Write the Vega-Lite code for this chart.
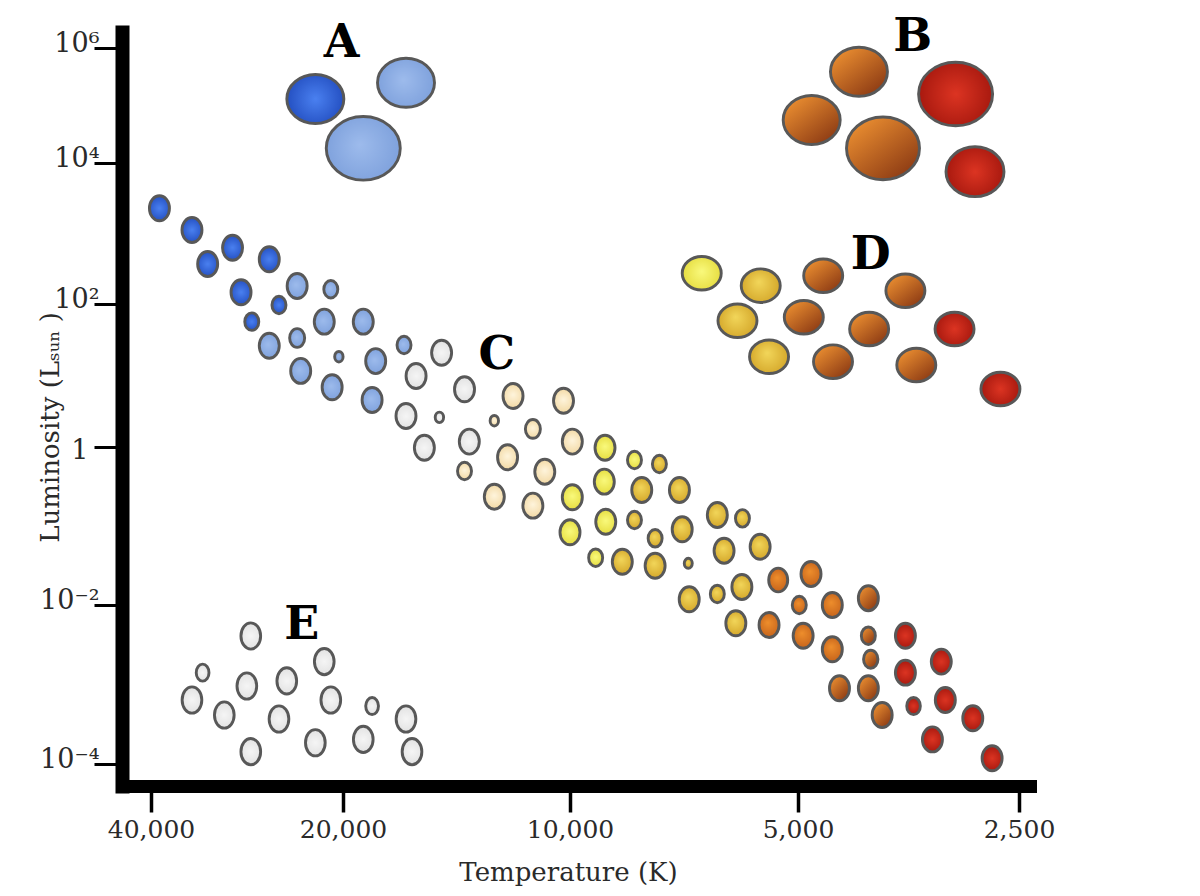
{
  "$schema": "https://vega.github.io/schema/vega-lite/v6.json",
  "width": 908,
  "height": 754,
  "autosize": {"type": "none"},
  "padding": {"left": 122, "top": 32, "right": 170, "bottom": 110},
  "background": "white",
  "config": {"view": {"stroke": null}},
  "datasets": {
    "stars": [
      {"temp": 38800, "lum": 2280, "radius": 1, "type": "O", "group": "main sequence"},
      {"temp": 34500, "lum": 1120, "radius": 1, "type": "O", "group": "main sequence"},
      {"temp": 29800, "lum": 629, "radius": 1, "type": "O", "group": "main sequence"},
      {"temp": 32600, "lum": 369, "radius": 1, "type": "O", "group": "main sequence"},
      {"temp": 26100, "lum": 431, "radius": 1, "type": "O", "group": "main sequence"},
      {"temp": 28900, "lum": 147, "radius": 1, "type": "O", "group": "main sequence"},
      {"temp": 23600, "lum": 180, "radius": 1, "type": "B", "group": "main sequence"},
      {"temp": 20900, "lum": 162, "radius": 0.7, "type": "B", "group": "main sequence"},
      {"temp": 25200, "lum": 96.8, "radius": 0.7, "type": "O", "group": "main sequence"},
      {"temp": 27800, "lum": 56.6, "radius": 0.7, "type": "O", "group": "main sequence"},
      {"temp": 21400, "lum": 56.6, "radius": 1, "type": "B", "group": "main sequence"},
      {"temp": 18800, "lum": 56.6, "radius": 1, "type": "B", "group": "main sequence"},
      {"temp": 26100, "lum": 26.1, "radius": 1, "type": "B", "group": "main sequence"},
      {"temp": 23600, "lum": 33.5, "radius": 0.75, "type": "B", "group": "main sequence"},
      {"temp": 16600, "lum": 26.7, "radius": 0.7, "type": "B", "group": "main sequence"},
      {"temp": 20300, "lum": 18.3, "radius": 0.42, "type": "B", "group": "main sequence"},
      {"temp": 18100, "lum": 15.9, "radius": 1, "type": "B", "group": "main sequence"},
      {"temp": 14800, "lum": 20.8, "radius": 1, "type": "A", "group": "main sequence"},
      {"temp": 23300, "lum": 11.6, "radius": 1, "type": "B", "group": "main sequence"},
      {"temp": 16000, "lum": 9.84, "radius": 1, "type": "A", "group": "main sequence"},
      {"temp": 20800, "lum": 6.84, "radius": 1, "type": "B", "group": "main sequence"},
      {"temp": 18300, "lum": 4.54, "radius": 1, "type": "B", "group": "main sequence"},
      {"temp": 16500, "lum": 2.71, "radius": 1, "type": "A", "group": "main sequence"},
      {"temp": 14900, "lum": 2.6, "radius": 0.42, "type": "A", "group": "main sequence"},
      {"temp": 13800, "lum": 6.41, "radius": 1, "type": "A", "group": "main sequence"},
      {"temp": 12600, "lum": 2.33, "radius": 0.42, "type": "F", "group": "main sequence"},
      {"temp": 11900, "lum": 5.17, "radius": 1, "type": "F", "group": "main sequence"},
      {"temp": 10200, "lum": 4.44, "radius": 1, "type": "F", "group": "main sequence"},
      {"temp": 15600, "lum": 0.98, "radius": 1, "type": "A", "group": "main sequence"},
      {"temp": 13600, "lum": 1.19, "radius": 1, "type": "A", "group": "main sequence"},
      {"temp": 11200, "lum": 1.79, "radius": 0.75, "type": "F", "group": "main sequence"},
      {"temp": 9930, "lum": 1.19, "radius": 1, "type": "F", "group": "main sequence"},
      {"temp": 13800, "lum": 0.497, "radius": 0.7, "type": "F", "group": "main sequence"},
      {"temp": 12100, "lum": 0.741, "radius": 1, "type": "F", "group": "main sequence"},
      {"temp": 8990, "lum": 0.98, "radius": 1, "type": "G0", "group": "main sequence"},
      {"temp": 10800, "lum": 0.487, "radius": 1, "type": "F", "group": "main sequence"},
      {"temp": 8220, "lum": 0.684, "radius": 0.7, "type": "G0", "group": "main sequence"},
      {"temp": 7620, "lum": 0.609, "radius": 0.7, "type": "G5", "group": "main sequence"},
      {"temp": 12600, "lum": 0.235, "radius": 1, "type": "F", "group": "main sequence"},
      {"temp": 11200, "lum": 0.181, "radius": 1, "type": "F", "group": "main sequence"},
      {"temp": 9930, "lum": 0.231, "radius": 1, "type": "G0", "group": "main sequence"},
      {"temp": 9010, "lum": 0.364, "radius": 1, "type": "G0", "group": "main sequence"},
      {"temp": 8040, "lum": 0.286, "radius": 1, "type": "G5", "group": "main sequence"},
      {"temp": 7170, "lum": 0.286, "radius": 1, "type": "G5", "group": "main sequence"},
      {"temp": 10000, "lum": 0.0832, "radius": 1, "type": "G0", "group": "main sequence"},
      {"temp": 8970, "lum": 0.113, "radius": 1, "type": "G0", "group": "main sequence"},
      {"temp": 8220, "lum": 0.119, "radius": 0.7, "type": "G5", "group": "main sequence"},
      {"temp": 7720, "lum": 0.0699, "radius": 0.7, "type": "G5", "group": "main sequence"},
      {"temp": 7110, "lum": 0.0908, "radius": 1, "type": "G5", "group": "main sequence"},
      {"temp": 6390, "lum": 0.138, "radius": 1, "type": "G5", "group": "main sequence"},
      {"temp": 5920, "lum": 0.125, "radius": 0.7, "type": "G5", "group": "main sequence"},
      {"temp": 9250, "lum": 0.0397, "radius": 0.7, "type": "G0", "group": "main sequence"},
      {"temp": 8530, "lum": 0.0353, "radius": 1, "type": "G5", "group": "main sequence"},
      {"temp": 7720, "lum": 0.0314, "radius": 1, "type": "G5", "group": "main sequence"},
      {"temp": 6980, "lum": 0.0337, "radius": 0.4, "type": "G5", "group": "main sequence"},
      {"temp": 6260, "lum": 0.0487, "radius": 1, "type": "G5", "group": "main sequence"},
      {"temp": 5610, "lum": 0.0547, "radius": 1, "type": "G5", "group": "main sequence"},
      {"temp": 6960, "lum": 0.0118, "radius": 1, "type": "G5", "group": "main sequence"},
      {"temp": 6390, "lum": 0.0138, "radius": 0.7, "type": "G5", "group": "main sequence"},
      {"temp": 5930, "lum": 0.0169, "radius": 1, "type": "G5", "group": "main sequence"},
      {"temp": 5310, "lum": 0.0207, "radius": 0.95, "type": "K0", "group": "main sequence"},
      {"temp": 4800, "lum": 0.0247, "radius": 1, "type": "K0", "group": "main sequence"},
      {"temp": 4980, "lum": 0.01, "radius": 0.7, "type": "K0", "group": "main sequence"},
      {"temp": 6040, "lum": 0.00589, "radius": 1, "type": "G5", "group": "main sequence"},
      {"temp": 4490, "lum": 0.01, "radius": 1, "type": "K0", "group": "main sequence"},
      {"temp": 4010, "lum": 0.0122, "radius": 1, "type": "K5", "group": "main sequence"},
      {"temp": 5460, "lum": 0.0056, "radius": 1, "type": "K0", "group": "main sequence"},
      {"temp": 4920, "lum": 0.00411, "radius": 1, "type": "K0", "group": "main sequence"},
      {"temp": 4490, "lum": 0.00277, "radius": 1, "type": "K0", "group": "main sequence"},
      {"temp": 4010, "lum": 0.00411, "radius": 0.7, "type": "K5", "group": "main sequence"},
      {"temp": 3980, "lum": 0.00208, "radius": 0.72, "type": "K5", "group": "main sequence"},
      {"temp": 3570, "lum": 0.00411, "radius": 1, "type": "M", "group": "main sequence"},
      {"temp": 3190, "lum": 0.00194, "radius": 1, "type": "M", "group": "main sequence"},
      {"temp": 3570, "lum": 0.00141, "radius": 1, "type": "M", "group": "main sequence"},
      {"temp": 4390, "lum": 0.000896, "radius": 1, "type": "K5", "group": "main sequence"},
      {"temp": 4010, "lum": 0.000896, "radius": 1, "type": "K5", "group": "main sequence"},
      {"temp": 3480, "lum": 0.000536, "radius": 0.68, "type": "M", "group": "main sequence"},
      {"temp": 3150, "lum": 0.000638, "radius": 1, "type": "M", "group": "main sequence"},
      {"temp": 3840, "lum": 0.000413, "radius": 1, "type": "K5", "group": "main sequence"},
      {"temp": 2890, "lum": 0.000376, "radius": 1, "type": "M", "group": "main sequence"},
      {"temp": 3280, "lum": 0.000204, "radius": 1, "type": "M", "group": "main sequence"},
      {"temp": 2720, "lum": 0.000118, "radius": 1, "type": "M", "group": "main sequence"},
      {"temp": 27900, "lum": 0.00408, "radius": 1.05, "type": "A", "group": "white dwarf"},
      {"temp": 33200, "lum": 0.00141, "radius": 0.68, "type": "A", "group": "white dwarf"},
      {"temp": 21400, "lum": 0.00194, "radius": 1.05, "type": "A", "group": "white dwarf"},
      {"temp": 28300, "lum": 0.000957, "radius": 1.05, "type": "A", "group": "white dwarf"},
      {"temp": 24500, "lum": 0.00111, "radius": 1.05, "type": "A", "group": "white dwarf"},
      {"temp": 34500, "lum": 0.000638, "radius": 1.05, "type": "A", "group": "white dwarf"},
      {"temp": 30700, "lum": 0.000413, "radius": 1.05, "type": "A", "group": "white dwarf"},
      {"temp": 25200, "lum": 0.000368, "radius": 1.05, "type": "A", "group": "white dwarf"},
      {"temp": 20900, "lum": 0.000638, "radius": 1.05, "type": "A", "group": "white dwarf"},
      {"temp": 18300, "lum": 0.000536, "radius": 0.68, "type": "A", "group": "white dwarf"},
      {"temp": 16500, "lum": 0.000368, "radius": 1.05, "type": "A", "group": "white dwarf"},
      {"temp": 27900, "lum": 0.000143, "radius": 1.05, "type": "A", "group": "white dwarf"},
      {"temp": 22100, "lum": 0.000185, "radius": 1.05, "type": "A", "group": "white dwarf"},
      {"temp": 18800, "lum": 0.000204, "radius": 1.05, "type": "A", "group": "white dwarf"},
      {"temp": 16200, "lum": 0.000143, "radius": 1.05, "type": "A", "group": "white dwarf"},
      {"temp": 22100, "lum": 129700, "radius": 2.28, "type": "O", "group": "supergiant"},
      {"temp": 16500, "lum": 249200, "radius": 2.28, "type": "B", "group": "supergiant"},
      {"temp": 18800, "lum": 18020, "radius": 2.96, "type": "B", "group": "supergiant"},
      {"temp": 4130, "lum": 387000, "radius": 2.28, "type": "K5", "group": "supergiant"},
      {"temp": 3050, "lum": 158500, "radius": 2.96, "type": "M", "group": "supergiant"},
      {"temp": 4790, "lum": 55900, "radius": 2.28, "type": "K5", "group": "supergiant"},
      {"temp": 3830, "lum": 18000, "radius": 2.92, "type": "K5", "group": "supergiant"},
      {"temp": 2870, "lum": 7530, "radius": 2.32, "type": "M", "group": "supergiant"},
      {"temp": 6700, "lum": 273, "radius": 1.56, "type": "G0", "group": "giant"},
      {"temp": 5600, "lum": 182, "radius": 1.56, "type": "G5", "group": "giant"},
      {"temp": 4620, "lum": 252, "radius": 1.56, "type": "K5", "group": "giant"},
      {"temp": 3570, "lum": 154, "radius": 1.56, "type": "K5", "group": "giant"},
      {"temp": 6010, "lum": 58.4, "radius": 1.56, "type": "G5", "group": "giant"},
      {"temp": 4910, "lum": 65.2, "radius": 1.56, "type": "K5", "group": "giant"},
      {"temp": 4000, "lum": 44.7, "radius": 1.56, "type": "K5", "group": "giant"},
      {"temp": 3060, "lum": 44.7, "radius": 1.56, "type": "M", "group": "giant"},
      {"temp": 5460, "lum": 18.3, "radius": 1.56, "type": "G5", "group": "giant"},
      {"temp": 4480, "lum": 15.6, "radius": 1.56, "type": "K5", "group": "giant"},
      {"temp": 3450, "lum": 14.0, "radius": 1.56, "type": "K5", "group": "giant"},
      {"temp": 2650, "lum": 6.47, "radius": 1.56, "type": "M", "group": "giant"}
    ],
    "labels": [
      {"letter": "A", "temp": 20100, "lum": 1377000},
      {"letter": "B", "temp": 3490, "lum": 1752000},
      {"letter": "C", "temp": 12500, "lum": 21.3},
      {"letter": "D", "temp": 3980, "lum": 547},
      {"letter": "E", "temp": 23200, "lum": 0.00611}
    ]
  },
  "encoding": {
    "x": {
      "field": "temp",
      "type": "quantitative",
      "scale": {
        "type": "log",
        "domain": [44415, 40000, 20000, 10000, 5000, 2500, 2415],
        "range": [0, 29, 221, 448, 676, 897, 908],
        "nice": false,
        "zero": false
      },
      "axis": {
        "values": [40000, 20000, 10000, 5000, 2500],
        "format": ",d",
        "grid": false,
        "domainColor": "black",
        "domainWidth": 13,
        "domainCap": "square",
        "tickColor": "black",
        "tickWidth": 3.5,
        "tickSize": 26,
        "labelFont": "DejaVu Serif",
        "labelFontSize": 25,
        "labelColor": "#2a2a2a",
        "labelPadding": 25,
        "labelBaseline": "alphabetic",
        "labelFlush": false,
        "labelOverlap": false,
        "title": "Temperature (K)",
        "titleFont": "DejaVu Serif",
        "titleFontSize": 26,
        "titleFontWeight": "normal",
        "titleColor": "#2a2a2a",
        "titleX": 446,
        "titleY": 94,
        "titleAlign": "center",
        "titleBaseline": "alphabetic"
      }
    },
    "y": {
      "field": "lum",
      "type": "quantitative",
      "scale": {
        "type": "log",
        "domain": [0.00005288, 0.0001, 0.01, 1, 100, 10000, 1000000, 1898000],
        "range": [754, 732, 573, 415, 272, 131, 16, 0],
        "nice": false,
        "zero": false
      },
      "axis": {
        "values": [0.0001, 0.01, 1, 100, 10000, 1000000],
        "labelExpr": "datum.value == 1 ? '1' : datum.value > 500000 ? '10⁶' : datum.value > 5000 ? '10⁴' : datum.value > 50 ? '10²' : datum.value > 0.005 ? '10⁻²' : '10⁻⁴'",
        "grid": false,
        "domainColor": "black",
        "domainWidth": 14,
        "domainCap": "square",
        "tickColor": "black",
        "tickWidth": 3,
        "tickSize": 28,
        "labelFont": "DejaVu Serif",
        "labelFontSize": 27,
        "labelColor": "#2a2a2a",
        "labelAlign": "right",
        "labelPadding": {"condition": {"test": "datum.value == 1", "value": 6}, "value": -5},
        "labelBaseline": {"condition": {"test": "datum.value == 1", "value": "middle"}, "value": "alphabetic"},
        "labelOffset": 3,
        "labelOverlap": false,
        "title": "Luminosity (Lₛᵤₙ )",
        "titleFont": "DejaVu Serif",
        "titleFontSize": 26,
        "titleFontWeight": "normal",
        "titleColor": "#2a2a2a",
        "titleAngle": -90,
        "titleX": -64,
        "titleY": 395,
        "titleAlign": "center",
        "titleBaseline": "alphabetic"
      }
    }
  },
  "layer": [
    {
      "data": {"name": "stars"},
      "encoding": {
        "size": {
          "field": "radius",
          "type": "quantitative",
          "scale": {"type": "pow", "exponent": 2, "domain": [0, 3], "range": [0, 5625]},
          "legend": null
        },
        "shape": {
          "field": "group",
          "type": "nominal",
          "scale": {
            "domain": ["main sequence", "white dwarf", "giant", "supergiant"],
            "range": [
              "M0,-1C0.442,-1,0.8,-0.552,0.8,0C0.8,0.552,0.442,1,0,1C-0.442,1,-0.8,0.552,-0.8,0C-0.8,-0.552,-0.442,-1,0,-1Z",
              "M0,-1C0.415,-1,0.75,-0.552,0.75,0C0.75,0.552,0.415,1,0,1C-0.415,1,-0.75,0.552,-0.75,0C-0.75,-0.552,-0.415,-1,0,-1Z",
              "M0,-0.86C0.552,-0.86,1,-0.475,1,0C1,0.475,0.552,0.86,0,0.86C-0.552,0.86,-1,0.475,-1,0C-1,-0.475,-0.552,-0.86,0,-0.86Z",
              "M0,-0.86C0.552,-0.86,1,-0.475,1,0C1,0.475,0.552,0.86,0,0.86C-0.552,0.86,-1,0.475,-1,0C-1,-0.475,-0.552,-0.86,0,-0.86Z"
            ]
          },
          "legend": null
        }
      },
      "layer": [
        {
          "transform": [{"filter": "datum.type === 'O'"}],
          "mark": {"type": "point", "filled": true, "opacity": 1, "stroke": "#585858", "strokeWidth": 2.9,
            "fill": {"gradient": "radial", "x1": 0.5, "y1": 0.5, "r1": 0, "x2": 0.5, "y2": 0.5, "r2": 0.5,
              "stops": [{"offset": 0, "color": "#4a80f0"}, {"offset": 1, "color": "#2450c2"}]}}
        },
        {
          "transform": [{"filter": "datum.type === 'B'"}],
          "mark": {"type": "point", "filled": true, "opacity": 1, "stroke": "#585858", "strokeWidth": 2.9,
            "fill": {"gradient": "radial", "x1": 0.45, "y1": 0.45, "r1": 0, "x2": 0.5, "y2": 0.5, "r2": 0.55,
              "stops": [{"offset": 0, "color": "#9dbbec"}, {"offset": 1, "color": "#7c9fdb"}]}}
        },
        {
          "transform": [{"filter": "datum.type === 'A'"}],
          "mark": {"type": "point", "filled": true, "opacity": 1, "stroke": "#585858", "strokeWidth": 2.9,
            "fill": {"gradient": "radial", "x1": 0.5, "y1": 0.5, "r1": 0, "x2": 0.5, "y2": 0.5, "r2": 0.55,
              "stops": [{"offset": 0, "color": "#f5f5f5"}, {"offset": 1, "color": "#e0e0e0"}]}}
        },
        {
          "transform": [{"filter": "datum.type === 'F'"}],
          "mark": {"type": "point", "filled": true, "opacity": 1, "stroke": "#585858", "strokeWidth": 2.9,
            "fill": {"gradient": "radial", "x1": 0.5, "y1": 0.45, "r1": 0, "x2": 0.5, "y2": 0.5, "r2": 0.55,
              "stops": [{"offset": 0, "color": "#fef4dc"}, {"offset": 1, "color": "#f1d69e"}]}}
        },
        {
          "transform": [{"filter": "datum.type === 'G0'"}],
          "mark": {"type": "point", "filled": true, "opacity": 1, "stroke": "#585858", "strokeWidth": 2.9,
            "fill": {"gradient": "radial", "x1": 0.5, "y1": 0.45, "r1": 0, "x2": 0.5, "y2": 0.5, "r2": 0.55,
              "stops": [{"offset": 0, "color": "#f9f97c"}, {"offset": 1, "color": "#e4da3a"}]}}
        },
        {
          "transform": [{"filter": "datum.type === 'G5'"}],
          "mark": {"type": "point", "filled": true, "opacity": 1, "stroke": "#585858", "strokeWidth": 2.9,
            "fill": {"gradient": "radial", "x1": 0.45, "y1": 0.4, "r1": 0, "x2": 0.5, "y2": 0.5, "r2": 0.6,
              "stops": [{"offset": 0, "color": "#f2d65a"}, {"offset": 1, "color": "#cf9f22"}]}}
        },
        {
          "transform": [{"filter": "datum.type === 'K0'"}],
          "mark": {"type": "point", "filled": true, "opacity": 1, "stroke": "#585858", "strokeWidth": 2.9,
            "fill": {"gradient": "radial", "x1": 0.45, "y1": 0.4, "r1": 0, "x2": 0.5, "y2": 0.5, "r2": 0.6,
              "stops": [{"offset": 0, "color": "#ee8e2c"}, {"offset": 1, "color": "#bf5c18"}]}}
        },
        {
          "transform": [{"filter": "datum.type === 'K5'"}],
          "mark": {"type": "point", "filled": true, "opacity": 1, "stroke": "#585858", "strokeWidth": 2.9,
            "fill": {"gradient": "linear", "x1": 0.15, "y1": 0.1, "x2": 0.85, "y2": 0.9,
              "stops": [{"offset": 0, "color": "#e88c30"}, {"offset": 1, "color": "#8e3c14"}]}}
        },
        {
          "transform": [{"filter": "datum.type === 'M'"}],
          "mark": {"type": "point", "filled": true, "opacity": 1, "stroke": "#585858", "strokeWidth": 2.9,
            "fill": {"gradient": "radial", "x1": 0.5, "y1": 0.5, "r1": 0, "x2": 0.5, "y2": 0.5, "r2": 0.5,
              "stops": [{"offset": 0, "color": "#dc3422"}, {"offset": 1, "color": "#a8190f"}]}}
        }
      ]
    },
    {
      "data": {"name": "labels"},
      "mark": {"type": "text", "font": "DejaVu Serif", "fontWeight": "bold", "fontSize": 46, "align": "center", "baseline": "middle", "dy": 3, "fill": "black"},
      "encoding": {"text": {"field": "letter", "type": "nominal"}}
    }
  ]
}
